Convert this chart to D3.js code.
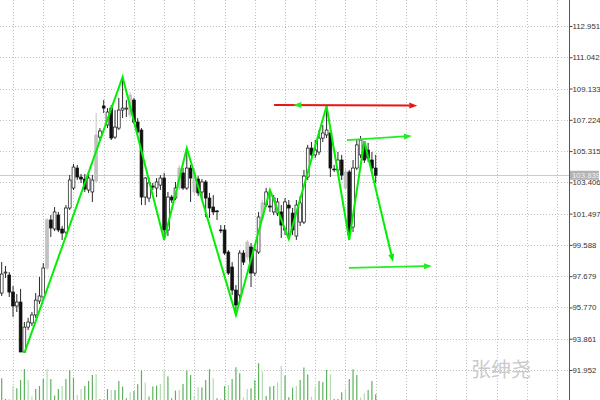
<!DOCTYPE html>
<html>
<head>
<meta charset="utf-8">
<script src="https://cdn.jsdelivr.net/npm/d3@7"></script>
<style>
    body { margin: 0; background: #fff; }
    svg { display: block; }
</style>
</head>
<body>
<div id="chart"></div>
<script>
// candles (price units)
const opens = [96.65, 97.87, 97.75, 96.71, 95.86, 96.10, 93.05, 94.57, 94.82, 95.31,
    96.16, 96.41, 98.18, 101.11, 100.56, 101.41, 100.56, 100.37, 101.84, 103.06,
    104.28, 103.73, 103.61, 102.94, 102.82, 103.49, 106.17, 108.07, 106.91, 107.94,
    106.17, 106.72, 107.82, 107.88, 107.52, 108.43, 107.09, 106.60, 102.51, 102.45,
    103.18, 103.06, 103.24, 103.67, 100.50, 102.51, 102.45, 103.06, 103.98, 103.06,
    104.28, 102.82, 103.61, 102.82, 103.43, 102.45, 101.90, 101.66, 100.50, 100.50,
    99.15, 98.24, 96.83, 96.53, 99.09, 98.85, 99.46, 97.87, 99.15, 101.23,
    102.02, 101.96, 101.60, 101.53, 101.60, 100.50, 102.02, 101.53, 100.13, 100.98,
    100.98, 103.73, 105.50, 105.08, 105.26, 106.11, 106.30, 106.42, 104.22, 104.16,
    104.77, 103.06, 104.04, 100.68, 104.28, 105.08, 105.69, 105.38, 104.77, 104.28];
const highs = [98.54, 98.30, 97.93, 97.08, 96.59, 96.90, 94.88, 95.13, 95.49, 96.65,
    97.63, 98.48, 101.23, 101.41, 101.90, 101.60, 100.74, 102.02, 103.85, 104.53,
    104.47, 103.92, 103.92, 103.98, 103.85, 107.64, 106.72, 108.43, 107.94, 108.13,
    107.82, 108.56, 109.84, 108.43, 108.92, 108.56, 107.33, 106.72, 103.73, 103.67,
    103.37, 103.67, 103.85, 103.98, 102.82, 102.63, 103.43, 104.47, 104.28, 105.50,
    104.47, 104.28, 103.79, 103.61, 103.55, 102.76, 102.63, 101.72, 100.80, 100.80,
    99.27, 98.54, 97.14, 99.27, 99.27, 99.89, 99.70, 99.46, 101.60, 102.33,
    103.06, 102.94, 102.63, 102.45, 102.02, 102.45, 102.33, 101.84, 102.33, 102.57,
    104.16, 105.69, 105.87, 105.99, 106.60, 106.91, 108.07, 106.60, 104.47, 105.26,
    105.08, 104.28, 104.16, 104.77, 105.99, 106.24, 105.93, 105.81, 105.26, 105.08];
const lows = [96.47, 97.57, 96.41, 95.19, 95.49, 93.05, 92.99, 94.39, 94.64, 95.13,
    95.98, 96.22, 98.06, 100.07, 100.43, 100.37, 99.89, 100.25, 101.72, 102.94,
    103.55, 103.37, 102.82, 102.76, 102.21, 103.37, 105.99, 107.64, 106.72, 105.99,
    106.05, 106.60, 107.33, 107.39, 107.33, 106.97, 106.30, 102.02, 102.02, 102.21,
    102.94, 102.51, 102.94, 99.89, 100.13, 102.15, 102.33, 102.94, 102.94, 102.94,
    102.21, 102.63, 102.57, 102.33, 101.29, 101.23, 101.41, 101.11, 100.31, 98.97,
    97.75, 96.53, 95.31, 96.10, 98.36, 98.67, 97.02, 97.69, 99.03, 101.11,
    101.90, 101.60, 101.41, 101.35, 100.01, 100.19, 99.95, 100.19, 99.89, 100.74,
    100.86, 103.55, 104.77, 104.89, 105.08, 105.87, 106.11, 103.73, 104.04, 104.04,
    103.55, 102.94, 99.89, 100.37, 104.16, 104.89, 104.59, 104.65, 104.04, 103.37];
const closes = [97.81, 97.93, 96.71, 95.86, 96.10, 93.05, 94.57, 94.88, 95.31, 96.22,
    96.47, 98.18, 101.11, 100.62, 101.60, 100.50, 100.31, 101.84, 103.55, 104.34,
    103.73, 103.61, 103.00, 103.67, 103.55, 106.30, 106.54, 107.94, 107.70, 106.11,
    106.78, 107.82, 107.94, 107.94, 108.74, 107.09, 106.48, 102.51, 103.67, 103.37,
    103.12, 103.43, 103.67, 100.50, 102.51, 102.33, 103.06, 104.28, 103.06, 104.28,
    103.67, 104.04, 102.76, 103.43, 102.45, 101.84, 101.60, 101.64, 100.48, 99.09,
    97.87, 96.83, 95.92, 99.09, 98.54, 99.76, 97.87, 99.27, 101.29, 102.15,
    102.82, 101.90, 102.45, 102.21, 100.80, 102.21, 101.84, 100.50, 102.02, 102.15,
    103.79, 105.50, 105.08, 105.38, 106.11, 106.42, 106.60, 104.28, 104.20, 104.77,
    103.85, 104.04, 100.19, 104.28, 105.69, 105.99, 104.77, 104.89, 104.28, 103.839];

// bars that the terminal paints grey
const greyBars = [12, 25, 34, 47, 51, 65, 69, 91];

// tick volumes, and whether the volume bar is the pale one
const volumes = [1090, 50, 50, 700, 590, 1000, 1550, 1000, 170, 550,
    700, 1050, 1550, 1050, 220, 550, 700, 1050, 1500, 1120,
    250, 550, 700, 950, 1250, 1290, 50, 20, 550, 500,
    500, 950, 670, 90, 390, 450, 790, 1470, 870, 170,
    670, 720, 800, 1470, 1170, 90, 470, 500, 800, 1470,
    1250, 170, 640, 620, 1000, 1540, 1090, 90, 30, 700,
    750, 1050, 1640, 1340, 140, 550, 590, 1000, 1840, 1420,
    200, 670, 700, 890, 1700, 1220, 140, 620, 700, 1000,
    1620, 1270, 170, 670, 950, 890, 1500, 1290, 50, 50,
    390, 540, 1050, 1540, 1250, 120, 340, 500, 950, 290];
const volPale = [0, 0, 1, 1, 0, 0, 0, 1, 1, 0,
    0, 0, 1, 0, 0, 0, 1, 0, 0, 0,
    1, 1, 0, 0, 0, 1, 0, 0, 0, 1,
    0, 0, 0, 0, 1, 0, 0, 0, 1, 0,
    0, 0, 1, 1, 0, 0, 0, 1, 0, 0,
    0, 1, 1, 0, 0, 0, 1, 0, 0, 0,
    1, 0, 0, 0, 1, 1, 0, 0, 0, 1,
    0, 0, 0, 1, 1, 0, 0, 0, 1, 0,
    0, 0, 1, 1, 0, 0, 0, 1, 0, 0,
    0, 1, 0, 0, 0, 1, 1, 0, 0, 0];

// zigzag turning points: bar index and price
const zigzagBars = [6, 32, 43, 49, 62, 71, 76, 86, 92, 96];
const zigzagPrices = [92.99, 109.84, 99.89, 105.50, 95.31, 102.94, 99.95, 108.07, 99.89, 105.93];

// hand drawn arrows: [bar, price] start and end
const resistanceLine = [[72.1, 108.13], [110.0, 108.09]];
const resistanceMark = [[79.4, 108.13], [77.2, 108.13]];
const upperTarget = [[91.4, 105.99], [108.6, 106.24]];
const lowerTarget = [[91.9, 98.18], [113.9, 98.30]];
const projectedLeg = [[96, 105.93], [103.6, 98.54]];

const priceTicks = [112.951, 111.042, 109.133, 107.224, 105.315, 103.406,
    101.497, 99.588, 97.679, 95.770, 93.861, 91.952];
const lastPrice = 103.839;
const watermark = "张绅尧";

const width = 600;
const height = 400;
const axisX = 569;

const svg = d3.select("#chart")
    .append("svg")
    .attr("width", width)
    .attr("height", height);

const x = d3.scaleLinear()
    .domain([0, 99])
    .range([1.7, 375.7]);

const y = d3.scaleLinear()
    .domain([91.952, 112.951])
    .range([370, 26]);

const v = d3.scaleLinear()
    .domain([0, 2000])
    .range([400, 360]);

// grid
const grid = svg.append("g").attr("class", "grid");

grid.selectAll("line.h")
    .data(priceTicks)
    .join("line")
    .attr("class", "h")
    .attr("x1", 0)
    .attr("x2", axisX)
    .attr("y1", d => Math.round(y(d)) + 0.5)
    .attr("y2", d => Math.round(y(d)) + 0.5)
    .attr("stroke", "#c0c0c0")
    .attr("stroke-dasharray", "1,2");

grid.selectAll("line.v")
    .data(d3.range(3, 150, 8).filter(i => x(i) < axisX))
    .join("line")
    .attr("class", "v")
    .attr("x1", d => Math.round(x(d)) + 0.5)
    .attr("x2", d => Math.round(x(d)) + 0.5)
    .attr("y1", 0)
    .attr("y2", height)
    .attr("stroke", "#c0c0c0")
    .attr("stroke-dasharray", "1,2");

// last price line
svg.append("line")
    .attr("x1", 0)
    .attr("x2", axisX)
    .attr("y1", Math.round(y(lastPrice)) + 0.5)
    .attr("y2", Math.round(y(lastPrice)) + 0.5)
    .attr("stroke", "#cccccc");

// watermark
svg.append("text")
    .attr("x", 501)
    .attr("y", 377)
    .attr("text-anchor", "middle")
    .attr("font-family", "Noto Sans CJK SC")
    .attr("font-size", 20)
    .attr("fill", "#cacaca")
    .text(watermark);

// volumes
svg.append("g")
    .selectAll("line")
    .data(volumes)
    .join("line")
    .attr("x1", (d, i) => x(i))
    .attr("x2", (d, i) => x(i))
    .attr("y1", v(0))
    .attr("y2", d => v(d))
    .attr("stroke", (d, i) => volPale[i] ? "#b3dbb3" : "#5cb25c")
    .attr("stroke-width", 1.2);

// candles
const candles = opens.map((o, i) => ({
    i: i,
    o: o,
    h: highs[i],
    l: lows[i],
    c: closes[i],
    grey: greyBars.includes(i)
}));

const bodyW = 2.8;
const cg = svg.append("g").attr("class", "candles");

cg.selectAll("line")
    .data(candles)
    .join("line")
    .attr("x1", d => x(d.i))
    .attr("x2", d => x(d.i))
    .attr("y1", d => y(d.h))
    .attr("y2", d => y(d.l))
    .attr("stroke", d => d.grey ? "#bdbdbd" : "#111")
    .attr("stroke-width", 0.9);

cg.selectAll("rect")
    .data(candles)
    .join("rect")
    .attr("x", d => x(d.i) - bodyW / 2)
    .attr("width", bodyW)
    .attr("y", d => y(Math.max(d.o, d.c)))
    .attr("height", d => Math.max(0.8, Math.abs(y(d.o) - y(d.c))))
    .attr("fill", d => d.grey ? "#c2c2c2" : (d.c >= d.o ? "#fff" : "#111"))
    .attr("stroke", d => d.grey ? "#bdbdbd" : "#111")
    .attr("stroke-width", 0.7);

// zigzag
const line = d3.line()
    .x(d => x(d[0]))
    .y(d => y(d[1]));

svg.append("path")
    .datum(d3.zip(zigzagBars, zigzagPrices))
    .attr("d", line)
    .attr("fill", "none")
    .attr("stroke", "#00f000")
    .attr("stroke-width", 2)
    .attr("stroke-linejoin", "miter");

// arrows
function arrow(pts, color, w) {
    const p0 = [x(pts[0][0]), y(pts[0][1])];
    const p1 = [x(pts[1][0]), y(pts[1][1])];
    const ang = Math.atan2(p1[1] - p0[1], p1[0] - p0[0]);
    const len = 8, half = 3;
    const back = [p1[0] - len * Math.cos(ang), p1[1] - len * Math.sin(ang)];
    svg.append("line")
        .attr("x1", p0[0]).attr("y1", p0[1])
        .attr("x2", back[0]).attr("y2", back[1])
        .attr("stroke", color)
        .attr("stroke-width", w);
    const nx = -Math.sin(ang) * half, ny = Math.cos(ang) * half;
    svg.append("path")
        .attr("d", "M" + p1[0] + "," + p1[1] +
            "L" + (back[0] + nx) + "," + (back[1] + ny) +
            "L" + (back[0] - nx) + "," + (back[1] - ny) + "Z")
        .attr("fill", color);
}

arrow(resistanceLine, "#e81515", 2);
arrow(resistanceMark, "#22ee22", 1.5);
arrow(upperTarget, "#22ee22", 1.8);
arrow(lowerTarget, "#22ee22", 1.8);
arrow(projectedLeg, "#00f000", 2);

// price axis
const yAxis = d3.axisRight(y)
    .tickValues(priceTicks)
    .tickSize(3)
    .tickFormat(d3.format(".3f"));

const ax = svg.append("g")
    .attr("transform", "translate(" + (axisX + 0.5) + ",0)")
    .call(yAxis);

ax.select(".domain").remove();
ax.selectAll("line").attr("stroke", "#444");
ax.selectAll("text")
    .attr("x", 3)
    .attr("font-family", "Liberation Sans")
    .attr("font-size", 7.8)
    .attr("fill", "#333");

svg.append("line")
    .attr("x1", axisX + 0.5)
    .attr("x2", axisX + 0.5)
    .attr("y1", 0)
    .attr("y2", height)
    .attr("stroke", "#555");

// last price tag
const tag = svg.append("g")
    .attr("transform", "translate(" + (axisX + 1) + "," + y(lastPrice) + ")");
tag.append("rect")
    .attr("x", 0)
    .attr("y", -4.5)
    .attr("width", 29)
    .attr("height", 9)
    .attr("fill", "#b2b2b2");
tag.append("text")
    .attr("x", 2)
    .attr("dy", "0.32em")
    .attr("font-family", "Liberation Sans")
    .attr("font-size", 7.8)
    .attr("fill", "#f2f2f2")
    .text(d3.format(".3f")(lastPrice));
</script>
</body>
</html>
